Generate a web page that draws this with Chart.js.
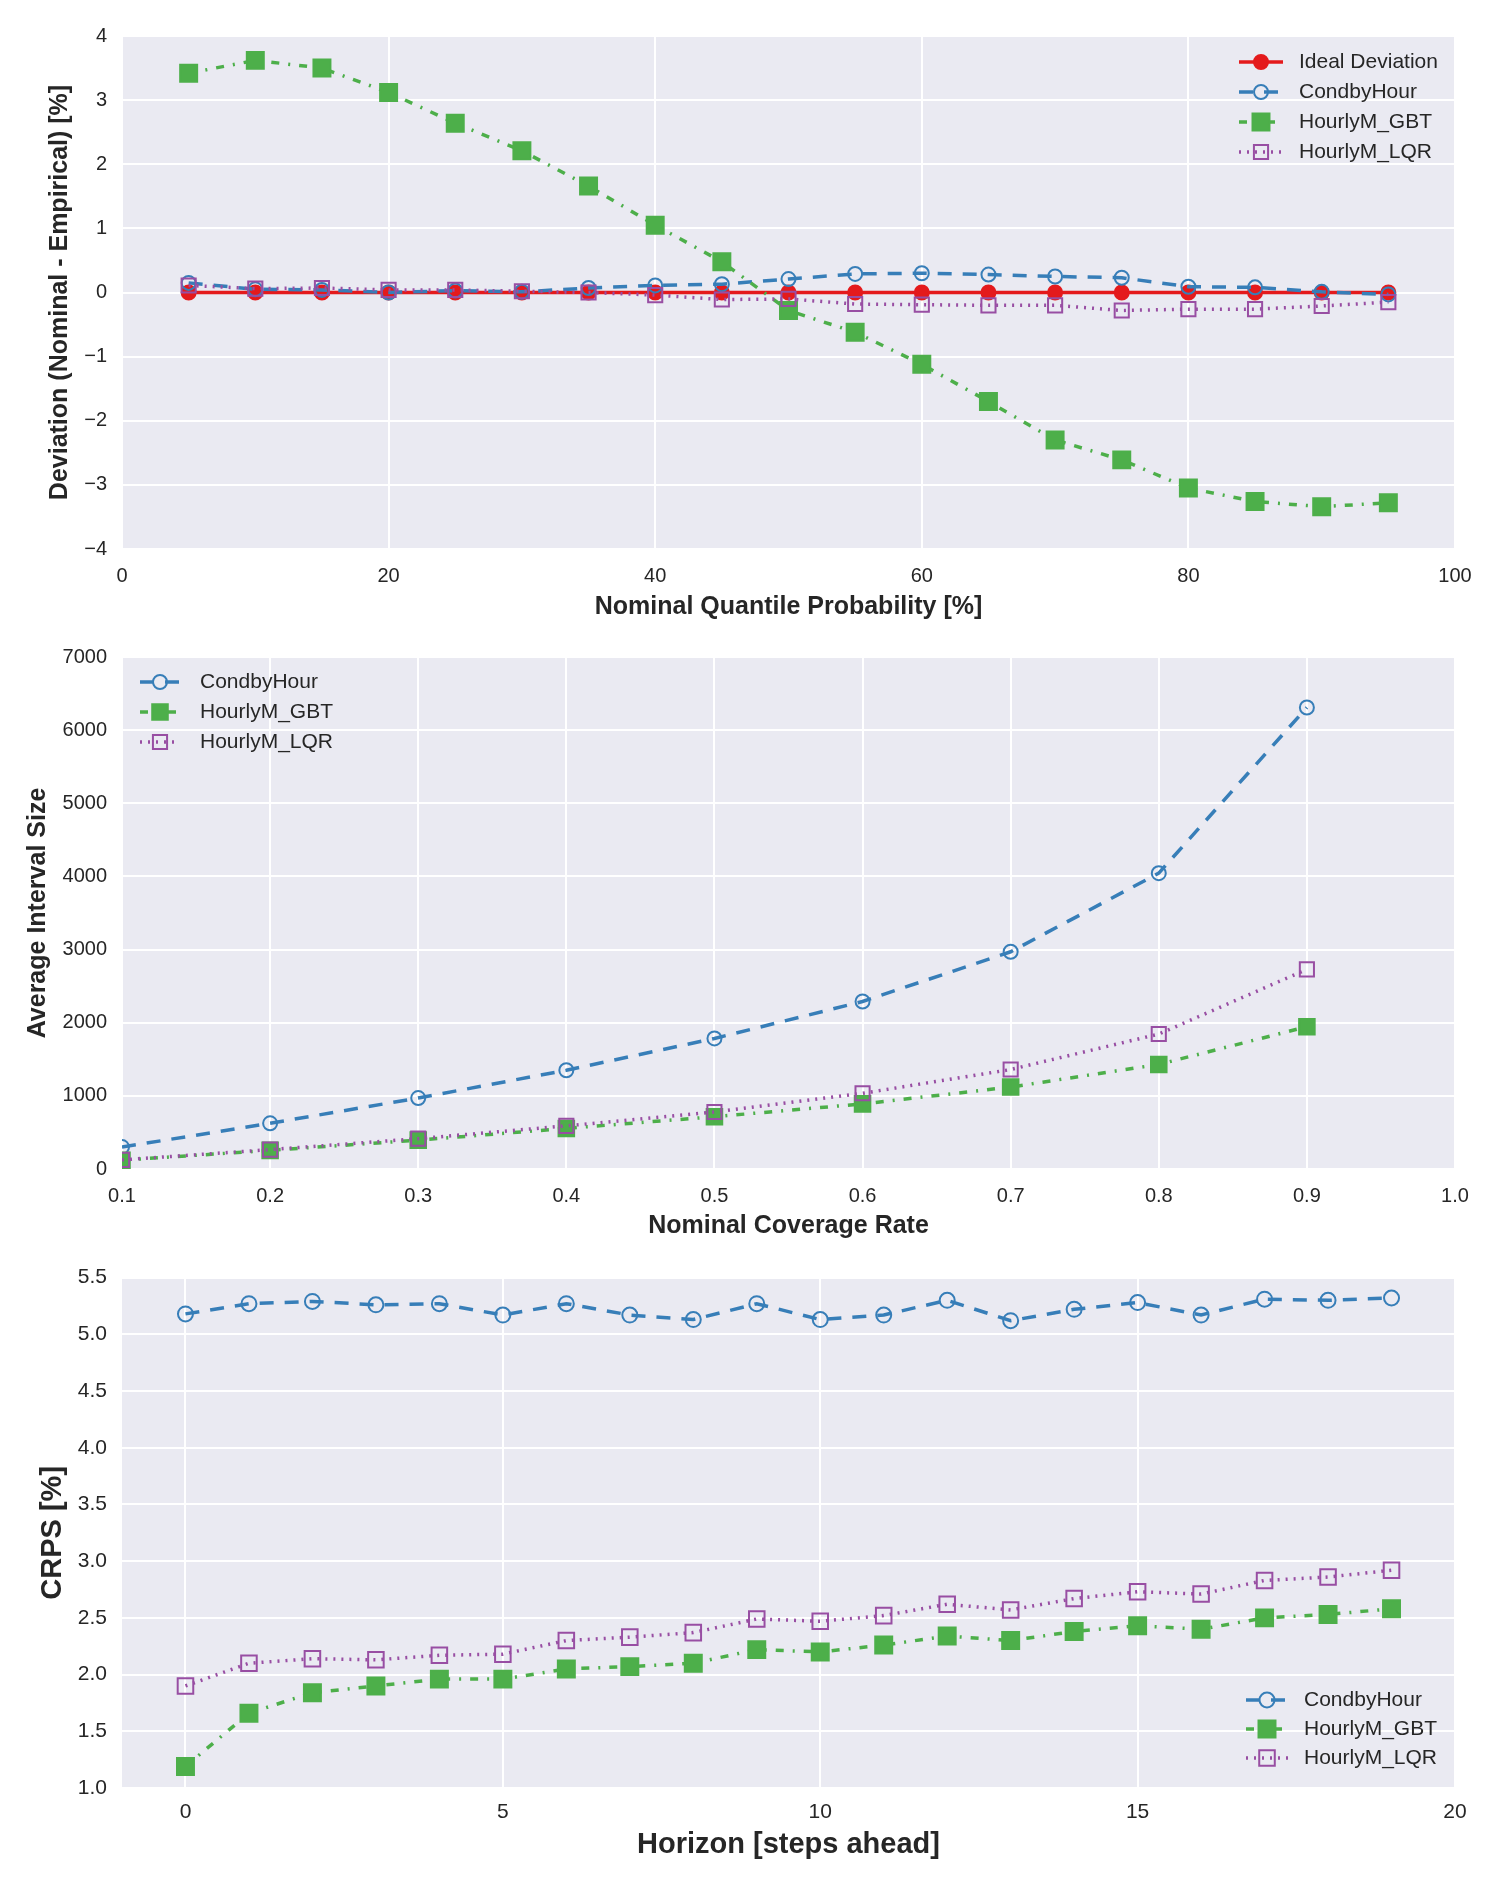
<!DOCTYPE html>
<html>
<head>
<meta charset="utf-8">
<script src="https://cdn.jsdelivr.net/npm/chart.js@4.4.1/dist/chart.umd.min.js"></script>
<style>
  body { margin: 0; background: #fff; }
  .panel { position: absolute; left: 0; width: 1500px; }
  canvas { display: block; }
</style>
</head>
<body>
<div class="panel" style="top:0;height:630px"><canvas id="dev-chart" width="1500" height="630"></canvas></div>
<div class="panel" style="top:630px;height:620px"><canvas id="size-chart" width="1500" height="620"></canvas></div>
<div class="panel" style="top:1250px;height:639px"><canvas id="crps-chart" width="1500" height="639"></canvas></div>
<script>
// ------------------------------------------------------------------
// Data
// ------------------------------------------------------------------

// Panel 1: quantile deviation
const quantileProb = [5, 10, 15, 20, 25, 30, 35, 40, 45, 50, 55, 60, 65, 70, 75, 80, 85, 90, 95];
const idealDeviation = [0, 0, 0, 0, 0, 0, 0, 0, 0, 0, 0, 0, 0, 0, 0, 0, 0, 0, 0];
const condbyHourDeviation = [0.15, 0.05, 0.04, 0.00, 0.03, 0.01, 0.07, 0.11, 0.13, 0.21, 0.29, 0.30, 0.28, 0.25, 0.23, 0.09, 0.08, 0.01, -0.03];
const gbtDeviation = [3.42, 3.62, 3.50, 3.12, 2.64, 2.21, 1.66, 1.05, 0.48, -0.28, -0.62, -1.12, -1.70, -2.30, -2.61, -3.05, -3.26, -3.34, -3.28];
const lqrDeviation = [0.11, 0.06, 0.07, 0.04, 0.04, 0.02, 0.00, -0.04, -0.11, -0.10, -0.18, -0.19, -0.20, -0.20, -0.28, -0.26, -0.26, -0.21, -0.15];
const devTicksX = [0, 20, 40, 60, 80, 100];
const devTicksY = [-4, -3, -2, -1, 0, 1, 2, 3, 4];

// Panel 2: average interval size
const coverageRate = [0.1, 0.2, 0.3, 0.4, 0.5, 0.6, 0.7, 0.8, 0.9];
const condbyHourSize = [300, 625, 970, 1350, 1785, 2290, 2970, 4045, 6310];
const gbtSize = [120, 255, 395, 555, 715, 890, 1120, 1430, 1945];
const lqrSize = [125, 265, 415, 590, 780, 1035, 1360, 1845, 2730];
const sizeTicksX = [0.1, 0.2, 0.3, 0.4, 0.5, 0.6, 0.7, 0.8, 0.9, 1.0];
const sizeTicksY = [0, 1000, 2000, 3000, 4000, 5000, 6000, 7000];

// Panel 3: CRPS by horizon
const horizon = [0, 1, 2, 3, 4, 5, 6, 7, 8, 9, 10, 11, 12, 13, 14, 15, 16, 17, 18, 19];
const condbyHourCrps = [5.18, 5.27, 5.29, 5.26, 5.27, 5.17, 5.27, 5.17, 5.13, 5.27, 5.13, 5.17, 5.30, 5.12, 5.22, 5.28, 5.17, 5.31, 5.30, 5.32];
const gbtCrps = [1.19, 1.66, 1.84, 1.90, 1.96, 1.96, 2.05, 2.07, 2.10, 2.22, 2.20, 2.26, 2.34, 2.30, 2.38, 2.43, 2.40, 2.50, 2.53, 2.58];
const lqrCrps = [1.90, 2.10, 2.14, 2.13, 2.17, 2.18, 2.30, 2.33, 2.37, 2.49, 2.47, 2.52, 2.62, 2.57, 2.67, 2.73, 2.71, 2.83, 2.86, 2.92];
const crpsTicksX = [0, 5, 10, 15, 20];
const crpsTicksY = [1.0, 1.5, 2.0, 2.5, 3.0, 3.5, 4.0, 4.5, 5.0, 5.5];

// ------------------------------------------------------------------
// Styling
// ------------------------------------------------------------------

const FONT = "'Liberation Sans', Arial, Helvetica, sans-serif";
const TEXT = "#262626";
const PLOT_BG = "#EAEAF2";

const STYLES = {
  ideal: { color: "#E41A1C", dash: [],           filled: true,  shape: "circle" },
  cond:  { color: "#377EB8", dash: [14, 11],     filled: false, shape: "circle" },
  gbt:   { color: "#4DAF4A", dash: [8, 9, 2, 9], filled: true,  shape: "rect" },
  lqr:   { color: "#984EA3", dash: [2, 6],       filled: false, shape: "rect" },
};

function series(label, xs, ys, st, radius, order) {
  return {
    label,
    data: xs.map((x, i) => ({ x, y: ys[i] })),
    borderColor: st.color,
    borderWidth: 3.5,
    borderDash: st.dash,
    pointStyle: st.shape,
    pointRadius: radius,
    pointBorderWidth: 2,
    pointBorderColor: st.color,
    pointBackgroundColor: st.filled ? st.color : "rgba(0,0,0,0)",
    tension: 0,
    clip: 0,
    order,   // later series on top, like matplotlib
  };
}

// grey plot background (seaborn darkgrid look)
const plotBg = {
  id: "plotBg",
  beforeDraw(chart) {
    const { ctx, chartArea: a } = chart;
    ctx.save();
    ctx.fillStyle = PLOT_BG;
    ctx.fillRect(a.left, a.top, a.width, a.height);
    ctx.restore();
  },
};

// legend drawn inside the plot, matplotlib style (line + marker + label)
const innerLegend = {
  id: "innerLegend",
  afterDraw(chart, args, opts) {
    const { ctx } = chart;
    ctx.save();
    ctx.font = `${opts.fontSize}px ${FONT}`;
    ctx.textBaseline = "middle";
    ctx.textAlign = "left";
    chart.data.datasets.forEach((ds, i) => {
      const y = opts.y + i * opts.gap;
      const cx = opts.markerX;
      ctx.strokeStyle = ds.borderColor;
      ctx.lineWidth = ds.borderWidth;
      ctx.setLineDash(ds.borderDash || []);
      ctx.beginPath();
      ctx.moveTo(cx - opts.half, y);
      ctx.lineTo(cx + opts.half, y);
      ctx.stroke();
      ctx.setLineDash([]);
      ctx.fillStyle = ds.pointBackgroundColor;
      ctx.strokeStyle = ds.pointBorderColor;
      ctx.lineWidth = ds.pointBorderWidth;
      Chart.helpers.drawPoint(ctx, {
        pointStyle: ds.pointStyle,
        radius: ds.pointRadius,
        rotation: 0,
        borderWidth: ds.pointBorderWidth,
      }, cx, y);
      ctx.fillStyle = TEXT;
      ctx.fillText(ds.label, opts.textX, y);
    });
    ctx.restore();
  },
};

function axis(o) {
  return {
    type: "linear",
    min: o.min,
    max: o.max,
    afterBuildTicks: s => { s.ticks = o.ticks.map(v => ({ value: v })); },
    afterFit: s => {
      if (o.width !== undefined) s.width = o.width;
      if (o.height !== undefined) s.height = o.height;
    },
    grid: { color: "#ffffff", lineWidth: 2, drawTicks: false },
    border: { display: false },
    ticks: {
      autoSkip: false,
      maxRotation: 0,
      padding: o.tickPad,
      color: TEXT,
      font: { family: FONT, size: o.tickSize },
      callback: o.format,
    },
    title: {
      display: true,
      text: o.title,
      color: TEXT,
      font: { family: FONT, size: o.titleSize, weight: "bold" },
      padding: o.titlePad,
    },
  };
}

function baseOptions(padTop, scales, legend) {
  return {
    responsive: false,
    animation: false,
    events: [],
    layout: { padding: { top: padTop, right: 45, bottom: 0, left: 0 } },
    plugins: {
      legend: { display: false },
      tooltip: { enabled: false },
      innerLegend: legend,
    },
    scales,
  };
}

const minusFmt = v => (v < 0 ? "\u2212" + Math.abs(v) : String(v));

// ------------------------------------------------------------------
// Panel 1
// ------------------------------------------------------------------

new Chart(document.getElementById("dev-chart"), {
  type: "line",
  data: {
    datasets: [
      series("Ideal Deviation", quantileProb, idealDeviation, STYLES.ideal, 7, 4),
      series("CondbyHour", quantileProb, condbyHourDeviation, STYLES.cond, 7, 3),
      series("HourlyM_GBT", quantileProb, gbtDeviation, STYLES.gbt, 12, 2),
      series("HourlyM_LQR", quantileProb, lqrDeviation, STYLES.lqr, 10, 1),
    ],
  },
  options: baseOptions(36, {
    x: axis({
      min: 0, max: 100, ticks: devTicksX, height: 81, tickPad: 15, tickSize: 20,
      format: v => String(v),
      title: "Nominal Quantile Probability [%]", titleSize: 25, titlePad: { top: 0, bottom: 8 },
    }),
    y: axis({
      min: -4, max: 4, ticks: devTicksY, width: 122, tickPad: 15, tickSize: 20,
      format: minusFmt,
      title: "Deviation (Nominal - Empirical) [%]", titleSize: 25, titlePad: { top: 45, bottom: 0 },
    }),
  }, { markerX: 1261, half: 22, textX: 1299, y: 62, gap: 30, fontSize: 21 }),
  plugins: [plotBg, innerLegend],
});

// ------------------------------------------------------------------
// Panel 2
// ------------------------------------------------------------------

new Chart(document.getElementById("size-chart"), {
  type: "line",
  data: {
    datasets: [
      series("CondbyHour", coverageRate, condbyHourSize, STYLES.cond, 7, 3),
      series("HourlyM_GBT", coverageRate, gbtSize, STYLES.gbt, 11, 2),
      series("HourlyM_LQR", coverageRate, lqrSize, STYLES.lqr, 10, 1),
    ],
  },
  options: baseOptions(24, {
    x: axis({
      min: 0.1, max: 1.0, ticks: sizeTicksX, height: 81, tickPad: 15, tickSize: 20,
      format: v => v.toFixed(1),
      title: "Nominal Coverage Rate", titleSize: 25, titlePad: { top: 0, bottom: 9 },
    }),
    y: axis({
      min: 0, max: 7000, ticks: sizeTicksY, width: 122, tickPad: 15, tickSize: 20,
      format: v => String(v),
      title: "Average Interval Size", titleSize: 25, titlePad: { top: 23, bottom: 0 },
    }),
  }, { markerX: 160, half: 20, textX: 200, y: 52, gap: 30, fontSize: 21 }),
  plugins: [plotBg, innerLegend],
});

// ------------------------------------------------------------------
// Panel 3
// ------------------------------------------------------------------

new Chart(document.getElementById("crps-chart"), {
  type: "line",
  data: {
    datasets: [
      series("CondbyHour", horizon, condbyHourCrps, STYLES.cond, 7.5, 3),
      series("HourlyM_GBT", horizon, gbtCrps, STYLES.gbt, 12, 2),
      series("HourlyM_LQR", horizon, lqrCrps, STYLES.lqr, 11, 1),
    ],
  },
  options: baseOptions(22, {
    x: axis({
      min: -1, max: 20, ticks: crpsTicksX, height: 101, tickPad: 12, tickSize: 21,
      format: v => String(v),
      title: "Horizon [steps ahead]", titleSize: 29, titlePad: { top: 0, bottom: 27 },
    }),
    y: axis({
      min: 1.0, max: 5.5, ticks: crpsTicksY, width: 122, tickPad: 15, tickSize: 21,
      format: v => v.toFixed(1),
      title: "CRPS [%]", titleSize: 29, titlePad: { top: 36, bottom: 0 },
    }),
  }, { markerX: 1267, half: 21, textX: 1304, y: 450, gap: 29, fontSize: 21 }),
  plugins: [plotBg, innerLegend],
});
</script>
</body>
</html>
